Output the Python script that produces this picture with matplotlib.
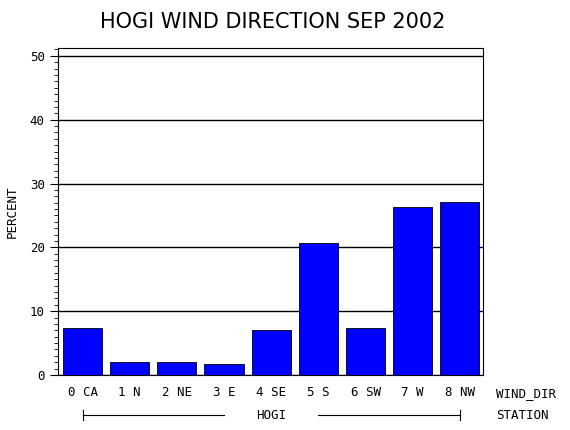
import matplotlib
matplotlib.use('Agg')
import matplotlib.pyplot as plt
from matplotlib.ticker import MultipleLocator

directions = ['0 CA', '1 N', '2 NE', '3 E', '4 SE', '5 S', '6 SW', '7 W', '8 NW']
percent = [7.4, 2.0, 2.0, 1.7, 7.0, 20.7, 7.4, 26.3, 27.1]
station = 'HOGI'

mono = 'DejaVu Sans Mono'
fig = plt.figure(figsize=(5.7, 4.3), dpi=100)
ax = fig.add_axes([0.1018, 0.1279, 0.7456, 0.760])

x = list(range(len(directions)))
ax.set_axisbelow(True)
ax.yaxis.grid(True, color='black', linewidth=1)
ax.bar(x, percent, width=0.83, color='#0000ff', edgecolor='black', linewidth=0.6, zorder=3)

ax.set_xlim(-0.52, len(directions) - 0.51)
ax.set_ylim(0, 51.2)
ax.yaxis.set_major_locator(MultipleLocator(10))
ax.yaxis.set_minor_locator(MultipleLocator(1))
ax.tick_params(axis='y', which='major', length=6, labelsize=9)
ax.tick_params(axis='y', which='minor', length=3)
for lab in ax.get_yticklabels():
    lab.set_family(mono)
ax.set_xticks(x)
ax.set_xticklabels(directions, family=mono, fontsize=9)
ax.tick_params(axis='x', length=0, pad=8)
ax.set_ylabel('PERCENT', family=mono, fontsize=9, labelpad=8)

ax.text(1.03, -0.058, 'WIND_DIR', transform=ax.transAxes, family=mono, fontsize=9, va='center')
ax.text(1.03, -0.123, 'STATION', transform=ax.transAxes, family=mono, fontsize=9, va='center')

# station bracket
trans = ax.get_xaxis_transform()
yb = -0.123
ax.plot([x[0], 3.0], [yb, yb], color='black', lw=0.8, transform=trans, clip_on=False)
ax.plot([5.0, x[-1]], [yb, yb], color='black', lw=0.8, transform=trans, clip_on=False)
for xe in (x[0], x[-1]):
    ax.plot([xe, xe], [yb - 0.015, yb + 0.015], color='black', lw=0.8, transform=trans, clip_on=False)
ax.text((x[0] + x[-1]) / 2, yb, station, transform=trans, family=mono, fontsize=9, ha='center', va='center')

fig.text(0.478, 0.95, 'HOGI WIND DIRECTION SEP 2002', ha='center', va='center', fontsize=15)

fig.savefig('out.png', dpi=100)
